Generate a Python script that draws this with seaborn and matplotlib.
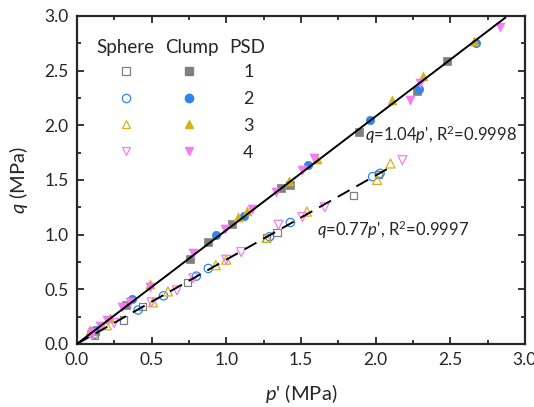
import numpy as np
import pandas as pd
import matplotlib
matplotlib.use("Agg")
import matplotlib.pyplot as plt
from matplotlib.ticker import MultipleLocator
from matplotlib.lines import Line2D
import seaborn as sns

# Datos: p' y q (MPa)
# Clump (marcadores rellenos)
clump1_p = [0.12, 0.33, 0.76, 0.88, 1.04, 1.37, 1.43, 1.89, 2.28, 2.48]
clump1_q = [0.12, 0.36, 0.78, 0.93, 1.10, 1.43, 1.45, 1.94, 2.31, 2.59]
clump2_p = [0.12, 0.37, 0.93, 1.12, 1.55, 1.96, 2.29, 2.67]
clump2_q = [0.13, 0.41, 1.00, 1.17, 1.64, 2.05, 2.33, 2.75]
clump3_p = [0.09, 0.22, 0.49, 1.08, 1.14, 1.42, 1.61, 2.11, 2.32, 2.66]
clump3_q = [0.13, 0.24, 0.55, 1.16, 1.22, 1.49, 1.69, 2.23, 2.45, 2.77]
clump4_p = [0.10, 0.155, 0.20, 0.30, 0.355, 0.49, 0.78, 0.99, 1.17, 1.33, 1.51, 1.59, 2.23, 2.30, 2.83]
clump4_q = [0.11, 0.165, 0.22, 0.34, 0.385, 0.52, 0.83, 1.05, 1.23, 1.39, 1.59, 1.70, 2.23, 2.39, 2.90]

# Sphere (marcadores vacíos)
sphere1_p = [0.12, 0.31, 0.44, 0.74, 1.27, 1.34, 1.85, 2.02]
sphere1_q = [0.08, 0.22, 0.34, 0.56, 0.97, 1.02, 1.36, 1.55]
sphere2_p = [0.12, 0.41, 0.58, 0.80, 0.88, 1.29, 1.43, 1.98, 2.03]
sphere2_q = [0.09, 0.31, 0.44, 0.62, 0.69, 0.98, 1.11, 1.53, 1.56]
sphere3_p = [0.11, 0.20, 0.51, 0.61, 0.93, 1.00, 1.27, 1.54, 2.01, 2.10]
sphere3_q = [0.10, 0.17, 0.38, 0.48, 0.72, 0.77, 0.97, 1.21, 1.50, 1.65]
sphere4_p = [0.10, 0.25, 0.50, 0.67, 0.78, 1.00, 1.10, 1.35, 1.51, 1.66, 2.18]
sphere4_q = [0.08, 0.19, 0.38, 0.49, 0.60, 0.77, 0.84, 1.09, 1.16, 1.25, 1.68]

psd = ['1', '2', '3', '4']
colores = ['#808080', '#2f86ea', '#d4b21e', '#f27ef2']
marcadores = ['s', 'o', '^', 'v']
tamanos = [28, 36, 42, 42]

pendiente_clump = 1.04
pendiente_sphere = 0.77

# Fuente
sns.set_style('ticks')
plt.rcParams['font.family'] = ['Lato', 'DejaVu Sans']
plt.rcParams['mathtext.fontset'] = 'custom'
plt.rcParams['mathtext.rm'] = 'Lato'
plt.rcParams['mathtext.it'] = 'Lato:italic'

fig = plt.figure(figsize=(5.34, 4.07), dpi=100)
ax = fig.add_axes([0.144, 0.155, 0.839, 0.806])

clump_p = [clump1_p, clump2_p, clump3_p, clump4_p]
clump_q = [clump1_q, clump2_q, clump3_q, clump4_q]
sphere_p = [sphere1_p, sphere2_p, sphere3_p, sphere4_p]
sphere_q = [sphere1_q, sphere2_q, sphere3_q, sphere4_q]

for i in range(4):
    df_s = pd.DataFrame({'p': sphere_p[i], 'q': sphere_q[i]})
    sns.scatterplot(x='p', y='q', data=df_s, ax=ax, marker=marcadores[i], s=tamanos[i],
                    facecolors='none', edgecolor=colores[i], linewidth=0.9, zorder=2)
    df_c = pd.DataFrame({'p': clump_p[i], 'q': clump_q[i]})
    sns.scatterplot(x='p', y='q', data=df_c, ax=ax, marker=marcadores[i], s=tamanos[i],
                    color=colores[i], edgecolor=colores[i], linewidth=0.5, zorder=2)

# Rectas de ajuste
x1 = np.array([0, 2.87])
ax.plot(x1, pendiente_clump * x1, color='black', lw=1.4, zorder=3)
x2 = np.array([0, 2.12])
ax.plot(x2, pendiente_sphere * x2, color='black', lw=1.4, ls=(0, (7, 4)), zorder=3)

ax.text(1.93, 1.91, r"$q$=1.04$p$', R$^2$=0.9998", fontsize=12, va='center')
ax.text(1.61, 1.04, r"$q$=0.77$p$', R$^2$=0.9997", fontsize=12, va='center')

ax.set_xlim(0, 3)
ax.set_ylim(0, 3)
ax.xaxis.set_major_locator(MultipleLocator(0.5))
ax.yaxis.set_major_locator(MultipleLocator(0.5))
ax.xaxis.set_minor_locator(MultipleLocator(0.25))
ax.yaxis.set_minor_locator(MultipleLocator(0.25))
ax.xaxis.set_major_formatter('{x:.1f}')
ax.yaxis.set_major_formatter('{x:.1f}')
ax.tick_params(which='both', direction='in', top=True, right=True, labelsize=12.5, pad=6)
ax.tick_params(which='major', length=5, width=1.3)
ax.tick_params(which='minor', length=3, width=1.3)
for s in ax.spines.values():
    s.set_linewidth(1.6)
    s.set_visible(True)
ax.set_xlabel(r"$p$' (MPa)", fontsize=14.5, labelpad=10)
ax.set_ylabel(r"$q$ (MPa)", fontsize=14.5, labelpad=10)

# Leyenda
handles = []
for i in range(4):
    handles.append(Line2D([], [], ls='none', marker=marcadores[i], ms=6, mfc='none',
                          mec=colores[i], mew=0.9))
for i in range(4):
    handles.append(Line2D([], [], ls='none', marker=marcadores[i], ms=6, mfc=colores[i],
                          mec=colores[i]))
ax.legend(handles, [''] * 4 + psd, ncol=2, loc='upper left', bbox_to_anchor=(0.089, 0.853),
          frameon=False, fontsize=13, handlelength=1.0, handletextpad=2.5, columnspacing=0.0,
          borderpad=0, borderaxespad=0, labelspacing=0.6)
ax.text(0.107, 0.905, 'Sphere', transform=ax.transAxes, ha='center', va='center', fontsize=13.5)
ax.text(0.256, 0.905, 'Clump', transform=ax.transAxes, ha='center', va='center', fontsize=13.5)
ax.text(0.381, 0.905, 'PSD', transform=ax.transAxes, ha='center', va='center', fontsize=13.5)

fig.savefig('out.png', dpi=100)
